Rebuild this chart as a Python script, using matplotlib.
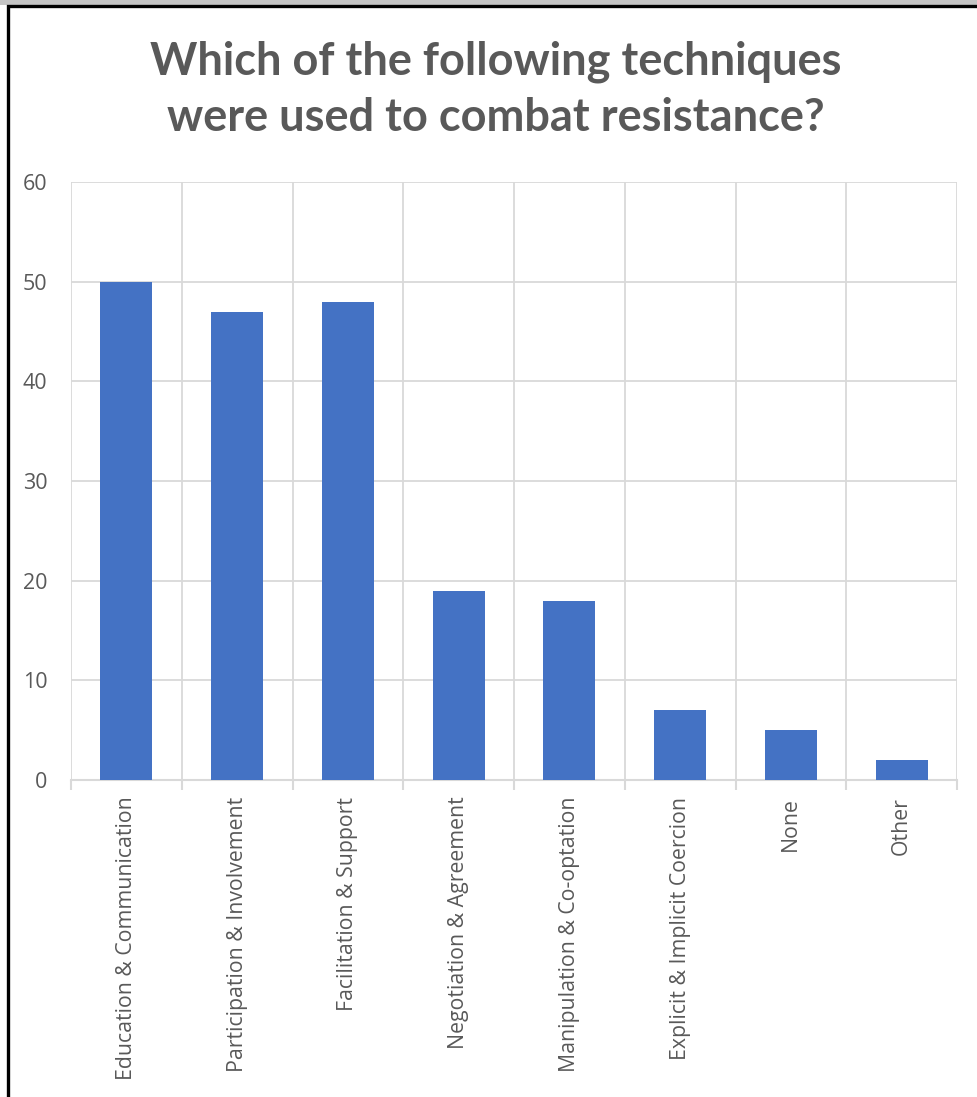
import matplotlib
matplotlib.use("Agg")
import matplotlib.pyplot as plt
from matplotlib.patches import Rectangle
import numpy as np

categories = [
    "Education & Communication",
    "Participation & Involvement",
    "Facilitation & Support",
    "Negotiation & Agreement",
    "Manipulation & Co-optation",
    "Explicit & Implicit Coercion",
    "None",
    "Other",
]
counts = [50, 47, 48, 19, 18, 7, 5, 2]
y_ticks = [0, 10, 20, 30, 40, 50, 60]

W, H = 977, 1097
fig = plt.figure(figsize=(W / 100, H / 100), dpi=100)
fig.patch.set_facecolor("white")

# Frame and top shadow around the chart area
fig.patches.append(Rectangle((0, 1 - 5 / H), 1, 5 / H, transform=fig.transFigure,
                             facecolor="#c4c4c4", edgecolor="none", zorder=0))
fig.patches.append(Rectangle((7.5 / W, -0.01), 1.2, 1 - 6 / H + 0.01,
                             transform=fig.transFigure, facecolor="white",
                             edgecolor="black", linewidth=2.4, zorder=1))

ax = fig.add_axes([71 / W, 1 - 780 / H, (957 - 71) / W, (780 - 182) / H])
ax.set_zorder(2)
ax.patch.set_alpha(0)

x = np.arange(len(categories))
ax.bar(x, counts, width=0.47, color="#4472C4", zorder=3)

ax.set_xlim(-0.5, len(categories) - 0.5)
ax.set_ylim(0, 60)
ax.set_yticks(y_ticks)

grid_c = "#d9d9d9"
text_c = "#595959"
for s in ["top", "right", "left"]:
    ax.spines[s].set_visible(False)
ax.spines["bottom"].set_color(grid_c)
ax.spines["bottom"].set_linewidth(1.5)

ax.yaxis.grid(True, color=grid_c, linewidth=1.3, zorder=0)
ax.tick_params(axis="y", length=0, pad=17, labelsize=15.5, labelcolor=text_c)
ax.set_yticklabels([str(v) for v in y_ticks], fontfamily="Open Sans")

ax.set_xticks(x)
ax.set_xticklabels(categories, rotation=90, fontsize=15.3, color=text_c,
                   fontfamily="Open Sans", va="top", ha="center")
ax.tick_params(axis="x", which="major", length=0, pad=12)
bounds = np.arange(-0.5, len(categories), 1.0)
ax.set_xticks(bounds, minor=True)
ax.tick_params(axis="x", which="minor", length=7, width=1.5, color=grid_c)
for b in bounds:
    ax.axvline(b, color=grid_c, linewidth=1.3, zorder=0)

fig.text(0.507, 1 - 90 / H,
         "Which of the following techniques\nwere used to combat resistance?",
         ha="center", va="center", fontsize=32.5, fontweight="bold",
         color=text_c, fontfamily="Lato", linespacing=1.4, zorder=5)

fig.savefig("out.png", dpi=100, facecolor="white")
